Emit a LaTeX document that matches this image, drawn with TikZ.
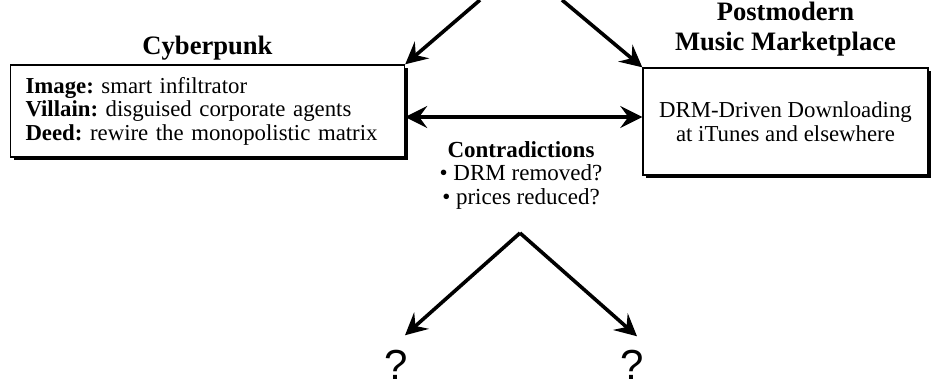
\documentclass[tikz,border=0pt]{standalone}
\usepackage{fontspec}
\setmainfont{Liberation Serif}
\newfontfamily\qfont{Liberation Sans}
\usetikzlibrary{arrows.meta,positioning,shadows}
\frenchspacing
\tikzset{
  basic/.style   = {draw, line width=0.7pt, fill=white, rectangle,
                    drop shadow={shadow xshift=1.5pt, shadow yshift=-1.5pt,
                                 fill=black, opacity=1},
                    font=\fontsize{11.4}{11.75}\selectfont},
  left box/.style  = {basic, align=left, text width=182pt, inner xsep=7.5pt,
                    minimum height=46pt},
  right box/.style = {basic, align=center, minimum width=142.5pt,
                    minimum height=53.5pt},
  heading/.style = {font=\fontsize{13.3}{15}\selectfont\bfseries, align=center},
  note/.style    = {font=\fontsize{11.5}{11.75}\selectfont, align=center},
  query/.style   = {font=\qfont\fontsize{21}{23}\selectfont},
  link/.style    = {->, line width=1.8pt}
}

\begin{document}
\begin{tikzpicture}[x=0.5pt, y=-0.5pt,
  >={Stealth[length=11pt, width=11pt, inset=4pt]}]
\useasboundingbox (0,0) rectangle (932,387);

% the two boxes
\node[left box] (cyber) at (207.5,111)
  {\textbf{Image:} smart infiltrator\\
   \textbf{Villain:} disguised corporate agents\\
   \textbf{Deed:} rewire the monopolistic matrix};
\node[right box] (mkt) at (785.5,121.5)
  {DRM-Driven Downloading\\ at iTunes and elsewhere};

% headings over the boxes
\node[heading, above=-1.5pt of cyber] (cybertitle) {Cyberpunk};
\node[heading, above=2pt of mkt] (mkttitle) {Postmodern\\ Music Marketplace};

% contradictions between them
\node[note] (contra) at (521,175)
  {\textbf{Contradictions}\\ \textbullet{} DRM removed?\\ \textbullet{} prices reduced?};

% open outcomes
\node[query] (q1) at (396,365) {?};
\node[query] (q2) at (632,365) {?};

% free ends
\coordinate (topL) at (480,0);
\coordinate (topR) at (562,0);
\coordinate (fork) at (520,233);
\coordinate (dl) at ([yshift=-3pt]cyber.east);

\draw[link] (topL) -- (cyber.north east);
\draw[link] (topR) -- (mkt.north west);
\draw[link, <->] (dl) -- (dl -| mkt.west);
\draw[link] (fork) -- ([xshift=4.5pt, yshift=4pt]q1.north);
\draw[link] (fork) -- ([xshift=2.5pt, yshift=3.5pt]q2.north);
\end{tikzpicture}
\end{document}
